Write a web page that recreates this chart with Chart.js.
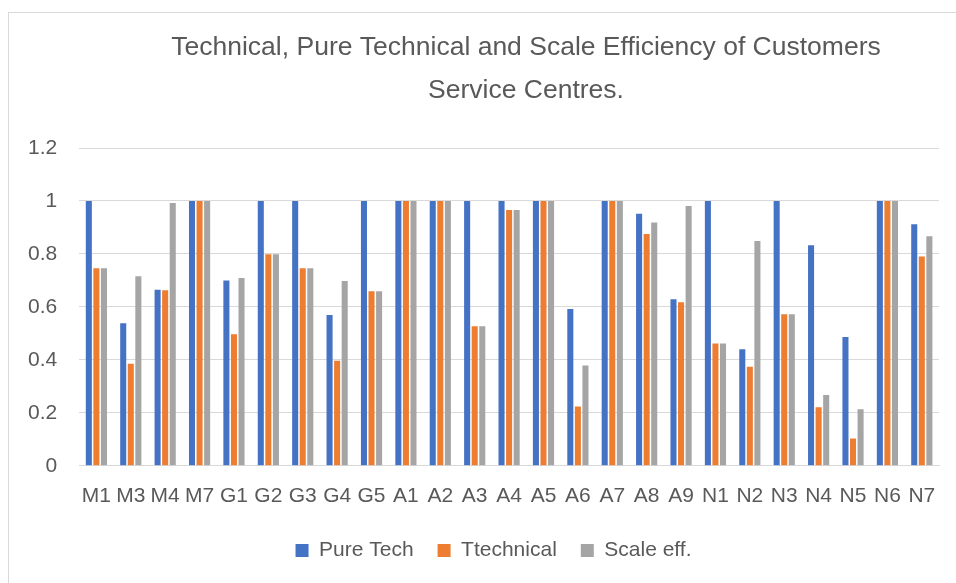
<!DOCTYPE html>
<html>
<head>
<meta charset="utf-8">
<script src="https://cdn.jsdelivr.net/npm/chart.js@4"></script>
<style>
  html, body { margin: 0; padding: 0; background: #ffffff; }
  #wrap { position: relative; width: 956px; height: 583px; overflow: hidden; }
  #frame { position: absolute; left: 8px; top: 12px; width: 960px; height: 600px; border-left: 1px solid #d9d9d9; border-top: 1px solid #d9d9d9; box-sizing: border-box; pointer-events: none; }
  canvas { position: absolute; left: 0; top: 0; }
</style>
</head>
<body>
<div id="wrap">
  <canvas id="c" width="956" height="583"></canvas>
  <div id="frame"></div>
</div>
<script>
const categories = ["M1","M3","M4","M7","G1","G2","G3","G4","G5","A1","A2","A3","A4","A5","A6","A7","A8","A9","N1","N2","N3","N4","N5","N6","N7"];
const pureTech = [1.0,0.538,0.665,1.0,0.70,1.0,1.0,0.569,1.0,1.0,1.0,1.0,1.0,1.0,0.592,1.0,0.952,0.629,1.0,0.440,1.0,0.833,0.486,1.0,0.912];
const technical = [0.746,0.385,0.663,1.0,0.497,0.799,0.746,0.397,0.659,1.0,1.0,0.527,0.966,1.0,0.224,1.0,0.875,0.618,0.462,0.374,0.572,0.221,0.103,1.0,0.790];
const scaleEff = [0.746,0.716,0.992,1.0,0.709,0.799,0.746,0.698,0.659,1.0,1.0,0.527,0.966,1.0,0.379,1.0,0.919,0.981,0.462,0.849,0.572,0.267,0.214,1.0,0.867];
const seriesNames = ["Pure Tech","Ttechnical","Scale eff."];
const yTickLabels = ["0","0.2","0.4","0.6","0.8","1","1.2"];
const titleLines = ["Technical, Pure Technical and Scale Efficiency of Customers","Service Centres."];

const FONT = "'Liberation Sans', Arial, sans-serif";
const TXT = "#595959";

const titlePlugin = {
  id: 'twoLineTitle',
  afterDraw(chart) {
    const ctx = chart.ctx;
    ctx.save();
    ctx.fillStyle = TXT;
    ctx.font = "26.5px " + FONT;
    ctx.textAlign = "center";
    ctx.textBaseline = "middle";
    ctx.fillText(titleLines[0], 526, 48);
    ctx.fillText(titleLines[1], 526, 91);
    ctx.restore();
  }
};

const legendShift = {
  id: 'legendShift',
  afterLayout(chart) {
    const lg = chart.legend;
    if (!lg) return;
    lg.left += 21; lg.right += 21;
    lg.top -= 11; lg.bottom -= 11;
  }
};

new Chart(document.getElementById('c'), {
  type: 'bar',
  data: {
    labels: categories,
    datasets: [
      { label: seriesNames[0], data: pureTech, backgroundColor: '#4472C4' },
      { label: seriesNames[1], data: technical, backgroundColor: '#ED7D31' },
      { label: seriesNames[2], data: scaleEff, backgroundColor: '#A5A5A5' }
    ]
  },
  options: {
    responsive: false,
    animation: false,
    datasets: { bar: { categoryPercentage: 0.66, barPercentage: 0.8 } },
    layout: { padding: { left: 6, right: 17, top: 148, bottom: 1 } },
    plugins: {
      title: { display: false },
      tooltip: { enabled: false },
      legend: {
        position: 'bottom',
        labels: {
          font: { family: FONT, size: 21 },
          color: TXT,
          boxWidth: 13,
          boxHeight: 13,
          padding: 24
        }
      }
    },
    scales: {
      x: {
        grid: { display: false, drawTicks: false },
        border: { color: '#d9d9d9', width: 1 },
        ticks: {
          font: { family: FONT, size: 21 },
          color: TXT,
          autoSkip: false,
          maxRotation: 0,
          minRotation: 0,
          padding: 18
        }
      },
      y: {
        min: 0,
        max: 1.2,
        grid: { color: '#d9d9d9', lineWidth: 1, drawTicks: false },
        border: { display: false },
        ticks: {
          stepSize: 0.2,
          font: { family: FONT, size: 21 },
          color: TXT,
          padding: 22,
          callback: (v, i) => yTickLabels[i]
        }
      }
    }
  },
  plugins: [titlePlugin, legendShift]
});
</script>
</body>
</html>
